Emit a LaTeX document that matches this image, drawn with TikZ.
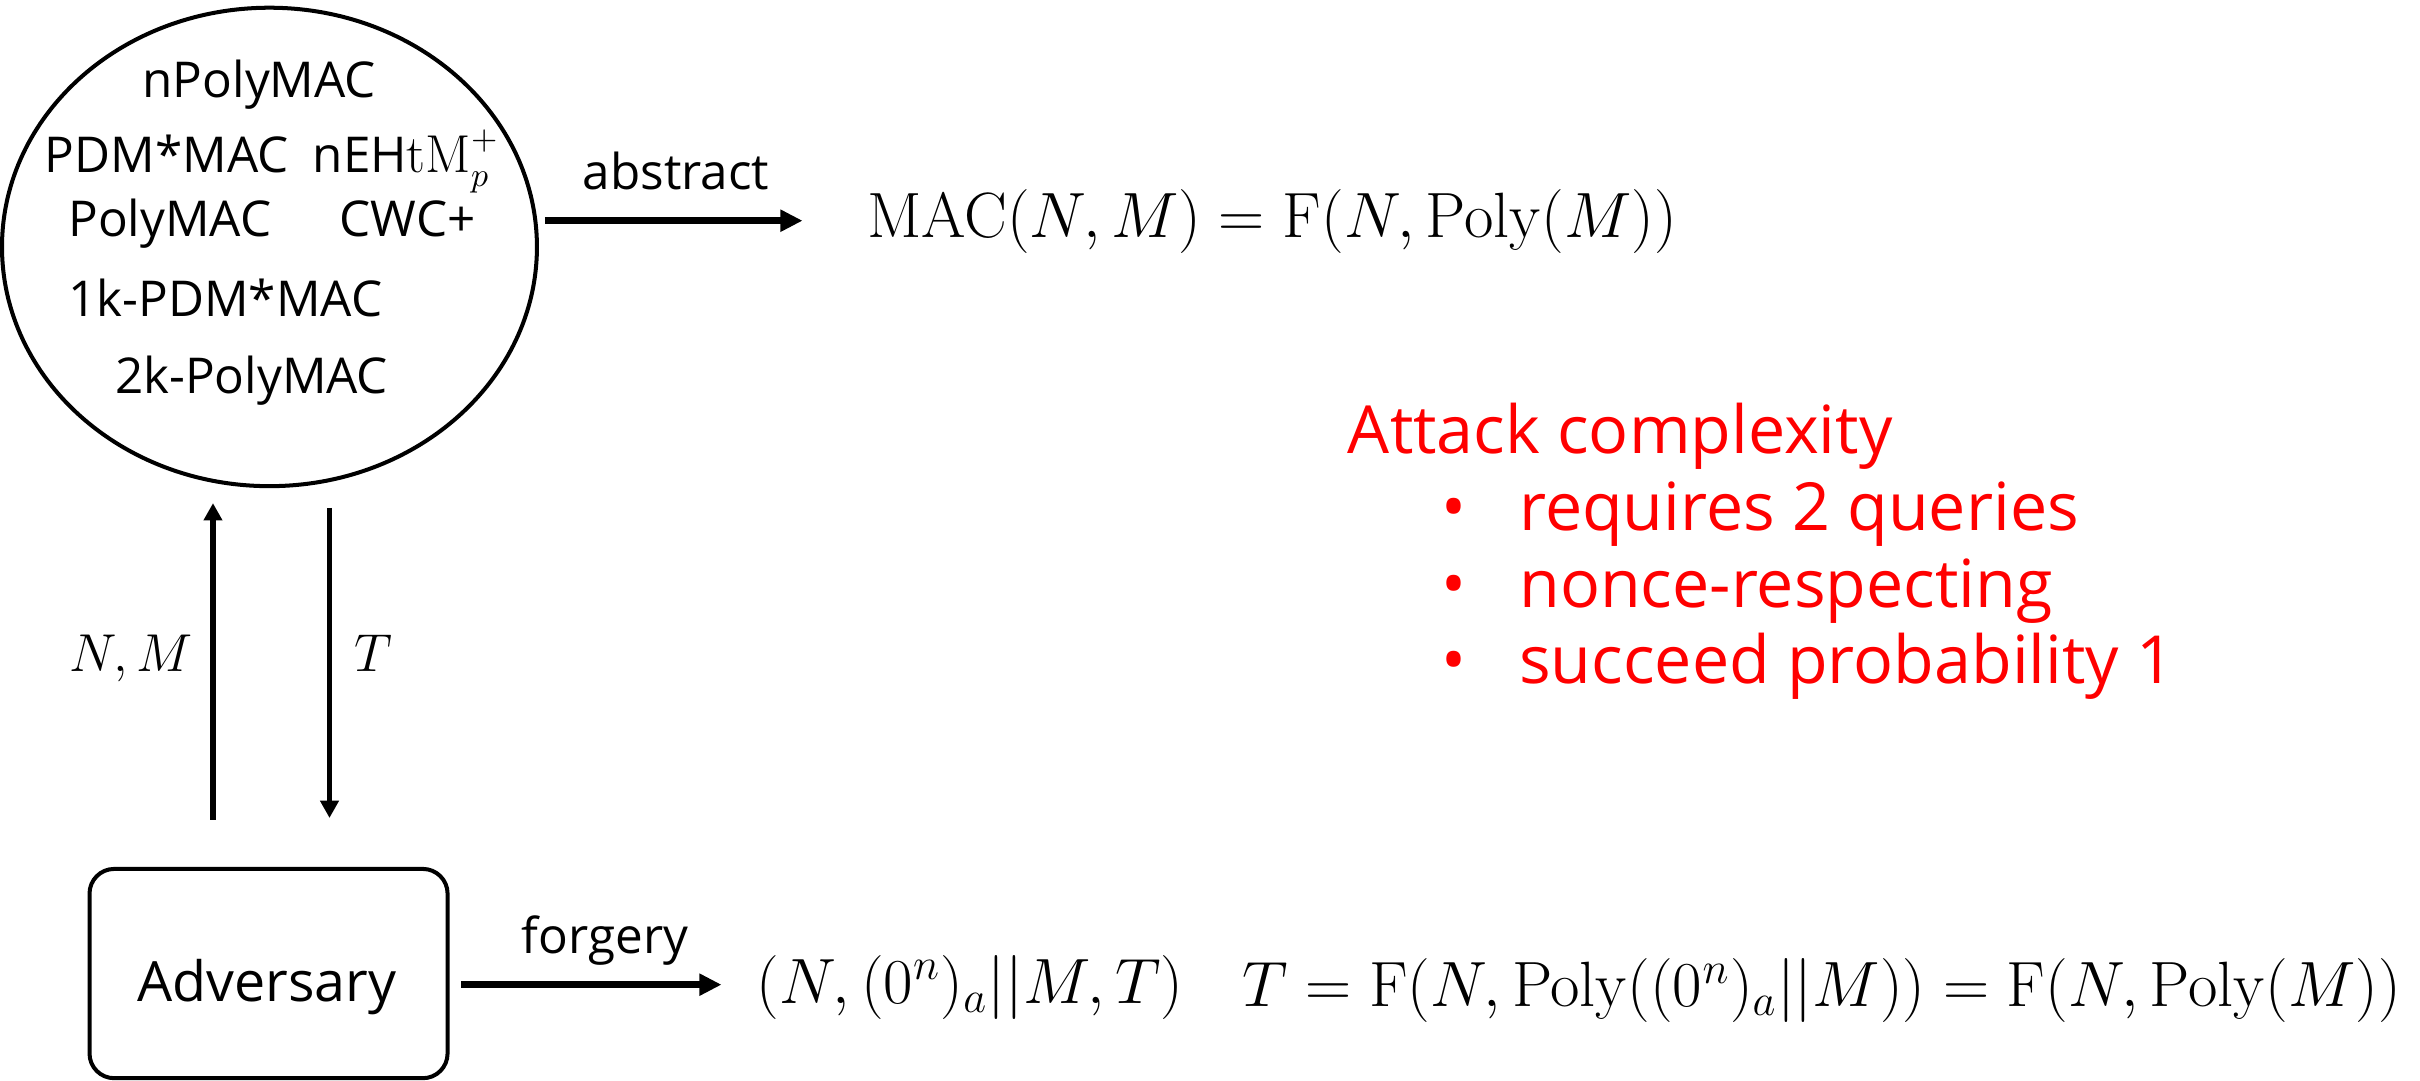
\documentclass[tikz,border=0pt]{standalone}
\usepackage[no-math]{fontspec}
\setmainfont{Open Sans}
\usetikzlibrary{shapes.geometric,arrows.meta,calc}
\definecolor{attack}{RGB}{255,0,0}
\begin{document}
\begin{tikzpicture}[x=0.5pt,y=-0.5pt,
  ell/.style={draw, ellipse, line width=1.3pt, inner sep=0pt, minimum width=173.3pt, minimum height=155pt},
  advbox/.style={draw, rounded corners=8pt, line width=1.3pt, inner sep=0pt, minimum width=116pt, minimum height=67.8pt},
  inell/.style={inner sep=0pt, anchor=base, font=\fontsize{16}{19}\selectfont},
  lbl/.style={inner sep=0pt, anchor=base, font=\fontsize{16}{19}\selectfont},
  mth/.style={inner sep=0pt, anchor=base west, font=\fontsize{20}{24}\selectfont},
  smth/.style={inner sep=0pt, anchor=base, font=\fontsize{16.5}{20}\selectfont},
  redtxt/.style={inner sep=0pt, anchor=base west, text=attack, font=\fontsize{21.5}{26}\selectfont},
  bul/.style={inner sep=0pt, anchor=base, text=attack, font=\fontsize{21.5}{26}\selectfont},
  harr/.style={line width=2.1pt, -{Triangle[length=7.2pt,width=6.8pt]}},
  varr/.style={line width=1.7pt, -{Triangle[length=5.6pt,width=5.8pt]}}]
\useasboundingbox (0,0) rectangle (1568,700);

% ellipse of schemes
\node[ell] (E) at (174.6,160) {};
\node[inell] (t1) at (168,63) {nPolyMAC};
\node[inell] (t2) at (108,112) {PDM*MAC};
\node[inell] (t3) at (263,112) {nEH$\mathrm{tM}_p^+$};
\node[inell] (t4) at (110,153) {PolyMAC};
\node[inell] (t5) at (264,153) {CWC+};
\node[inell] (t6) at (146,205) {1k-PDM*MAC};
\node[inell] (t7) at (163,255) {2k-PolyMAC};

% abstract arrow
\node[mth] (mac) at (561.5,154) {$\mathrm{MAC}(N,M)=\mathrm{F}(N,\mathrm{Poly}(M))$};
\coordinate (ab1) at (353,143);
\coordinate (ab2) at (520,143);
\draw[harr] (ab1) -- (ab2);
\node[lbl] (labs) at (438,123) {abstract};

% adversary
\node[advbox] (adv) at (174,630.8) {};
\node[inner sep=0pt, anchor=base, font=\fontsize{18}{22}\selectfont] (advt) at (173,649) {Adversary};

% vertical arrows
\coordinate (u1) at (138,531);
\coordinate (u2) at (138,326);
\draw[varr] (u1) -- (u2);
\coordinate (d1) at (213.5,329);
\coordinate (d2) at (213.5,530);
\draw[varr] (d1) -- (d2);
\node[smth] (lnm) at (85,435) {$N,M$};
\node[smth] (lt) at (242,435) {$T$};

% forgery arrow
\coordinate (f1) at (299,638);
\coordinate (f2) at (467.5,638);
\draw[harr] (f1) -- (f2);
\node[lbl] (lforg) at (392,618) {forgery};
\node[mth] (tup) at (490,650) {$(N,(0^n)_a||M,T)$};
\node[mth] (teq) at (804.5,652) {$T=\mathrm{F}(N,\mathrm{Poly}((0^n)_a||M))=\mathrm{F}\big(N,\mathrm{Poly}(M)\big)$};

% attack complexity
\node[redtxt] (ah) at (873,294) {Attack complexity};
\node[bul] (b1) at (942,344) {•};
\node[redtxt] (r1) at (984,344) {requires 2 queries};
\node[bul] (b2) at (942,393.7) {•};
\node[redtxt] (r2) at (984,393.7) {nonce-respecting};
\node[bul] (b3) at (942,443) {•};
\node[redtxt] (r3) at (984,443) {succeed probability 1};
\end{tikzpicture}
\end{document}
